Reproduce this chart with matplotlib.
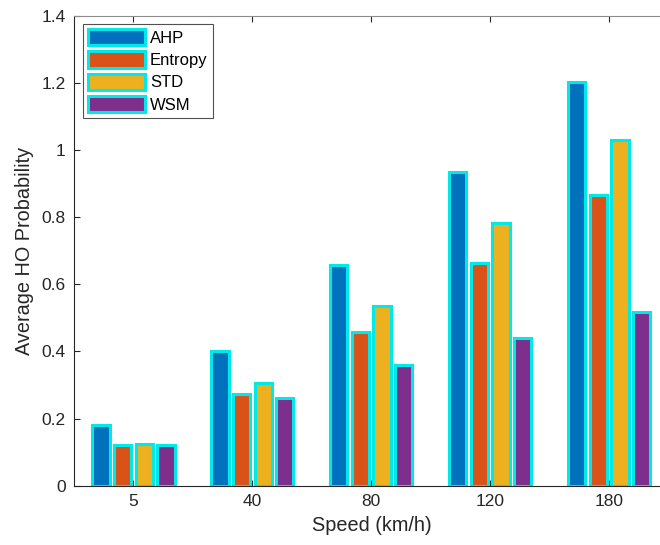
import matplotlib.pyplot as plt
import numpy as np

plt.rcParams['font.family'] = ['Liberation Sans', 'DejaVu Sans']

speeds = ['5', '40', '80', '120', '180']
methods = ['AHP', 'Entropy', 'STD', 'WSM']
AHP = [0.18, 0.40, 0.658, 0.935, 1.204]
Entropy = [0.12, 0.272, 0.458, 0.662, 0.865]
STD = [0.125, 0.306, 0.536, 0.783, 1.03]
WSM = [0.122, 0.26, 0.359, 0.44, 0.518]
colors = ['#0072BD', '#D95319', '#EDB120', '#7E2F8E']

series = [AHP, Entropy, STD, WSM]
x = np.arange(1, len(speeds) + 1)
n = len(series)
group_width = min(0.8, n / (n + 1.5))
step = group_width / n
bar_w = 0.8 * step

fig = plt.figure(figsize=(6.6, 5.45), dpi=100)
# the original is cropped on the right, so the axes end at the figure edge
ax = fig.add_axes([74 / 660, 1 - 485.7 / 545, 586 / 660, 470 / 545])

for i, (vals, name) in enumerate(zip(series, methods)):
    off = (i - (n - 1) / 2) * step
    ax.bar(x + off, vals, width=bar_w, color=colors[i], edgecolor='#00E8E8',
           linewidth=2.2, label=name, zorder=2)

ax.set_xlim(0.5, 0.5 + 586 * 5 / 594.5)
ax.set_ylim(0, 1.4)
ax.set_xticks(x)
ax.set_xticklabels(speeds)
ax.set_yticks(np.arange(0, 1.41, 0.2))
ax.set_yticklabels(['0', '0.2', '0.4', '0.6', '0.8', '1', '1.2', '1.4'])
ax.tick_params(direction='in', length=4.5, width=0.8, labelsize=12.5,
               colors='#262626', top=True, right=False, pad=6)
for s in ax.spines.values():
    s.set_color('#262626')
    s.set_linewidth(0.8)
ax.spines['right'].set_visible(False)
ax.spines['top'].set_color('#8c8c8c')

ax.set_xlabel('Speed (km/h)', fontsize=14.3, color='#262626')
ax.xaxis.set_label_coords(0.508, -0.065)
ax.set_ylabel('Average HO Probability', fontsize=14.3, color='#262626', labelpad=5)

leg = ax.legend(loc='upper left', bbox_to_anchor=(0.016, 0.983), fontsize=12,
                frameon=True, fancybox=False, edgecolor='#262626',
                handlelength=3.4, handleheight=1.15, labelspacing=0.33,
                borderpad=0.3, handletextpad=0.3, borderaxespad=0)
leg.get_frame().set_linewidth(0.8)

fig.savefig('out.png', dpi=100)
